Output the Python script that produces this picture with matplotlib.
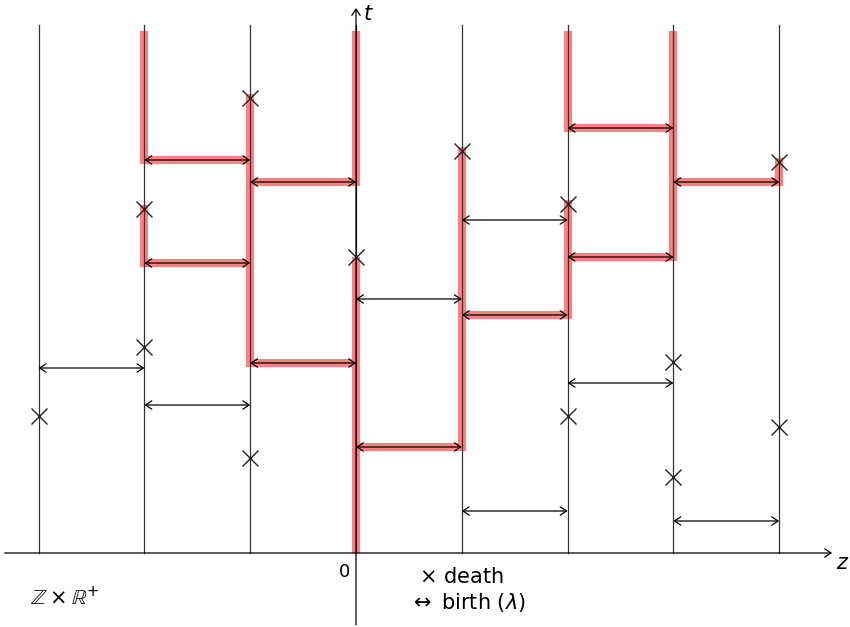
import matplotlib.pyplot as plt

# sites on Z
sites = [-3, -2, -1, 0, 1, 2, 3, 4]
t_top = 5.28

# deaths (x marks): site and time
death_z = [-3, -2, -2, -1, -1, 0, 1, 2, 2, 3, 3, 4, 4]
death_t = [1.37, 2.06, 3.44, 0.95, 4.55, 2.96, 4.02, 1.37, 3.49, 0.76, 1.91, 1.26, 3.91]

# births between site z and z+1 at time t; infected ones carry the infection
birth_z = [-3, -2, -2, -2, -1, -1, 0, 0, 1, 1, 1, 2, 2, 2, 3, 3]
birth_t = [1.85, 1.48, 2.90, 3.93, 1.90, 3.71, 1.06, 2.54, 0.42, 3.33, 2.38, 1.70, 2.96, 4.25, 0.32, 3.71]
birth_inf = [False, False, True, True, True, True, True, False, False, False, True, False, True, True, False, True]

# infected vertical stretches: site, start, end
inf_z = [0, 0, 1, -1, -2, -2, 2, 2, 3, 4]
inf_start = [0.0, 3.71, 1.06, 1.90, 2.90, 3.93, 2.38, 4.25, 2.96, 3.71]
inf_end = [2.96, 5.18, 4.02, 4.55, 3.44, 5.18, 3.49, 5.18, 5.18, 3.91]

fig = plt.figure(figsize=(8.5, 6.27), dpi=100)
ax = fig.add_axes([0, 0, 1, 1])
ax.set_xlim(-356 / 105.8, (850 - 356) / 105.8)
ax.set_ylim(-0.74, 5.53)
ax.axis('off')

red = '#ff8080'
# red infection paths
for z, a, b in zip(inf_z, inf_start, inf_end):
    cap = 'butt' if a == 0 else 'projecting'
    ax.plot([z, z], [a, b], color=red, lw=5.8, solid_capstyle=cap, zorder=1)
for z, t, inf in zip(birth_z, birth_t, birth_inf):
    if inf:
        ax.plot([z, z + 1], [t, t], color=red, lw=5.8, solid_capstyle='projecting', zorder=1)

# time lines
for z in sites:
    ax.plot([z, z], [0, t_top], color='#333333', lw=0.9, zorder=2)

# births
for z, t in zip(birth_z, birth_t):
    ax.annotate('', xy=(z + 1, t), xytext=(z, t),
                arrowprops=dict(arrowstyle='<->,head_length=0.45,head_width=0.3',
                                color='black', lw=0.9, shrinkA=0, shrinkB=0), zorder=3)

# deaths
ax.plot(death_z, death_t, 'x', color='#222222', ms=11, mew=1.0, linestyle='none', zorder=4)

# axes
ax.annotate('', xy=(4.5, 0), xytext=(-3.32, 0),
            arrowprops=dict(arrowstyle='->,head_length=0.45,head_width=0.3',
                            color='black', lw=0.9, shrinkA=0, shrinkB=0))
ax.annotate('', xy=(0, 5.45), xytext=(0, -0.72),
            arrowprops=dict(arrowstyle='->,head_length=0.45,head_width=0.3',
                            color='black', lw=0.9, shrinkA=0, shrinkB=0))
ax.text(4.6, -0.1, '$z$', fontsize=15, ha='center', va='center')
ax.text(0.12, 5.39, '$t$', fontsize=15, ha='center', va='center')
ax.text(-0.11, -0.19, '0', fontsize=13, ha='center', va='center')

ax.text(0.6, -0.24, r'$\times$ death', fontsize=15, ha='left', va='center')
ax.text(0.5, -0.49, r'$\leftrightarrow$ birth ($\lambda$)', fontsize=15, ha='left', va='center')
ax.text(-3.08, -0.44, r'$\mathbb{Z}\times\mathbb{R}^{+}$', fontsize=15, ha='left', va='center')

fig.savefig('out.png', dpi=100)
